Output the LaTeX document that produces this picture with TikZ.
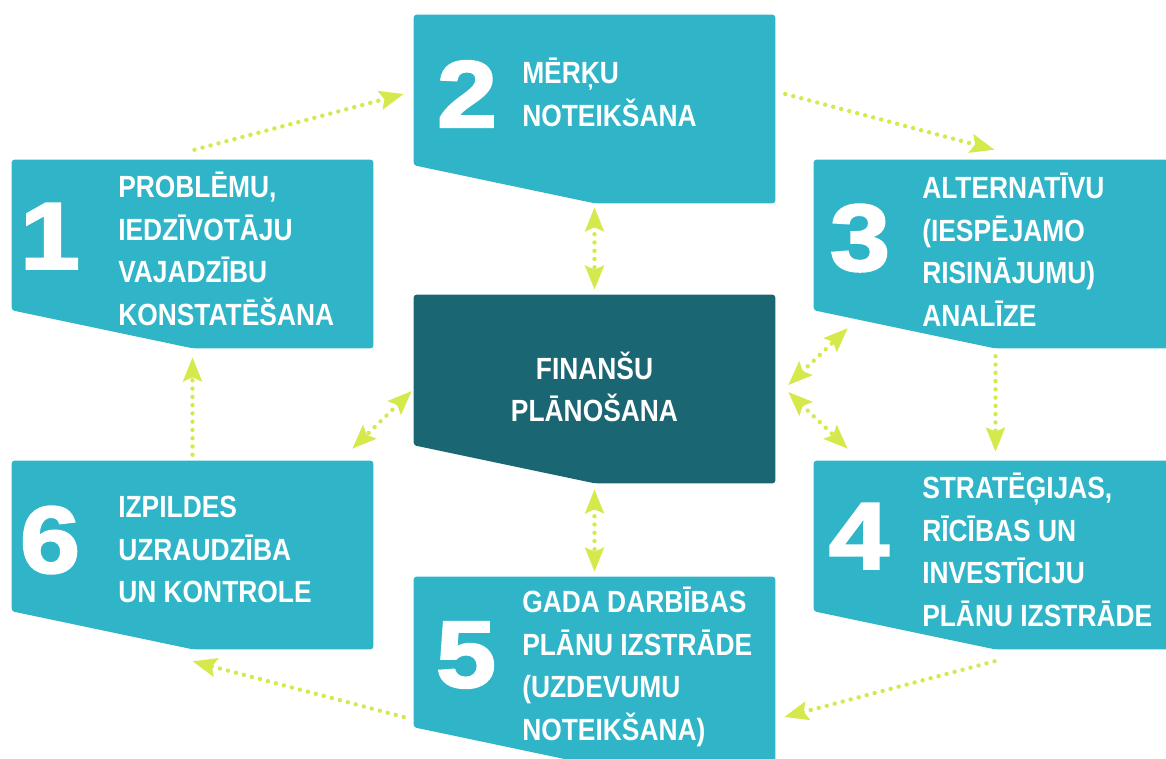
\documentclass[tikz,border=0pt]{standalone}
\usepackage{fontspec}
\usetikzlibrary{arrows.meta, positioning, calc}
\newfontfamily\stepfont{Liberation Sans}[FakeStretch=0.86]
\newfontfamily\numfont{Liberation Sans}[FakeStretch=1.14, FakeBold=2.5]
\definecolor{cteal}{HTML}{30B5C8}
\definecolor{cdark}{HTML}{1B6673}
\definecolor{clime}{HTML}{D5E84C}
\tikzset{
  area/.style={minimum width=270.75pt, minimum height=141pt, inner sep=0pt},
  steptext/.style={anchor=north west, inner sep=0pt, align=left, text=white, font=\stepfont\bfseries\fontsize{23}{32}\selectfont},
  stepnum/.style={inner sep=0pt, text=white, font=\numfont\bfseries\fontsize{71}{71}\selectfont},
  >={Stealth[length=18pt, width=14pt, inset=3pt]},
  link/.style={->, draw=clime, line width=3.3pt, line cap=round, dash pattern=on 0pt off 6.2pt},
  twoway/.style={<->, draw=clime, line width=3.3pt, line cap=round, dash pattern=on 0pt off 6.2pt},
}
% box with the slanted lower edge
\newcommand\stepshape[2]{\fill[#2, rounded corners=2pt] (#1.north west) -- (#1.north east) -- (#1.south east) -- (#1.south) -- ([yshift=28.5pt]#1.south west) -- cycle;}
\newcommand\strt{\rule{0pt}{20pt}}

\begin{document}
\begin{tikzpicture}[x=0.75pt, y=-0.75pt]
  \path[use as bounding box] (0,0) rectangle (1166,758);
  \clip (0,0) rectangle (1166,758);
  % the seven boxes
  \node[area] (b1) at (192.5,254) {};
  \node[area] (b2) at (594.5,109) {};
  \node[area] (b3) at (994.5,254) {};
  \node[area] (bc) at (594.5,389) {};
  \node[area] (b4) at (994.5,555) {};
  \node[area] (b5) at (594.5,671) {};
  \node[area] (b6) at (192.5,555) {};
  \stepshape{b1}{cteal}
  \stepshape{b2}{cteal}
  \stepshape{b3}{cteal}
  \stepshape{bc}{cdark}
  \stepshape{b4}{cteal}
  \stepshape{b5}{cteal}
  \stepshape{b6}{cteal}
  % numbers
  \node[stepnum] (n1) at (50,236) {1};
  \node[stepnum] (n2) at (467,94) {2};
  \node[stepnum] (n3) at (860,238) {3};
  \node[stepnum] (n4) at (859,536) {4};
  \node[stepnum] (n5) at (466,655) {5};
  \node[stepnum] (n6) at (50,540) {6};
  % texts
  \node[steptext] (t1) at (118,170.5) {\strt PROBLĒMU,\\IEDZĪVOTĀJU\\VAJADZĪBU\\KONSTATĒŠANA};
  \node[steptext] (t2) at (522,56.5) {\strt MĒRĶU\\NOTEIKŠANA};
  \node[steptext] (t3) at (922,171.5) {\strt ALTERNATĪVU\\(IESPĒJAMO\\RISINĀJUMU)\\ANALĪZE};
  \node[steptext] (t4) at (922,471.5) {\strt STRATĒĢIJAS,\\RĪCĪBAS UN\\INVESTĪCIJU\\PLĀNU IZSTRĀDE};
  \node[steptext] (t5) at (522,585.5) {\strt GADA DARBĪBAS\\PLĀNU IZSTRĀDE\\(UZDEVUMU\\NOTEIKŠANA)};
  \node[steptext] (t6) at (118,490.5) {\strt IZPILDES\\UZRAUDZĪBA\\UN KONTROLE};
  \node[steptext, anchor=north, align=center] (tc) at (594.5,351.5) {\strt FINANŠU\\PLĀNOŠANA};
  % cycle
  \draw[link] ([shift={(2,-10)}]b1.north) -- ([shift={(-10,-15)}]b2.west);
  \draw[link] ([shift={(10,-15)}]b2.east) -- ([shift={(0,-10)}]b3.north);
  \draw[link] ([shift={(1,8)}]b3.south) -- ([shift={(1,-9)}]b4.north);
  \draw[link] ([shift={(0,12)}]b4.south) -- ([shift={(9,46)}]b5.east);
  \draw[link] ([shift={(-10,46)}]b5.west) -- ([shift={(0,12)}]b6.south);
  \draw[link] ([shift={(0,-6)}]b6.north) -- ([shift={(0,9)}]b1.south);
  % to the centre
  \draw[twoway] ([shift={(0,4)}]b2.south) -- ([shift={(0,-5)}]bc.north);
  \draw[twoway] ([shift={(0,6)}]bc.south) -- ([shift={(0,-5)}]b5.north);
  \draw[twoway] ([shift={(-2,2)}]bc.west) -- ([shift={(-21,-12)}]b6.north east);
  \draw[twoway] ([shift={(13,-4)}]bc.east) -- ([shift={(34,-20)}]b3.south west);
  \draw[twoway] ([shift={(13,3)}]bc.east) -- ([shift={(34,-12)}]b4.north west);
\end{tikzpicture}
\end{document}
